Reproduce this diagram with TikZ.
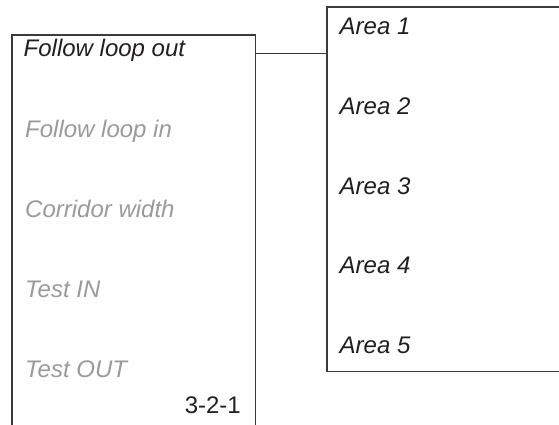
\documentclass[tikz,border=0pt]{standalone}
\usepackage{fontspec}
\setmainfont{Liberation Sans}
\definecolor{linec}{HTML}{3A3A3A}
\definecolor{inkc}{HTML}{231F20}
\definecolor{greyc}{HTML}{9A9A9C}
\begin{document}
\begin{tikzpicture}[x=1pt,y=-1pt,
  frame/.style={draw=linec,line width=1.4pt},
  lbl/.style={anchor=base west,inner sep=0pt,font=\fontsize{24}{28}\selectfont\itshape,text=inkc},
  dim/.style={lbl,text=greyc},
  num/.style={anchor=base east,inner sep=0pt,font=\fontsize{24}{28}\selectfont,text=inkc}]
\useasboundingbox (0,0) rectangle (559,425);
\clip (0,0) rectangle (559,425);
% left menu frame
\coordinate (lbl) at (12,430);
\coordinate (ltl) at (12,35);
\coordinate (ltr) at (255.5,35);
\coordinate (lbr) at (255.5,430);
\draw[frame] (lbl) -- (ltl) -- (ltr) -- (lbr);
% right menu frame
\coordinate (rtr) at (565,7);
\coordinate (rtl) at (327,7);
\coordinate (rbl) at (327,371.5);
\coordinate (rbr) at (565,371.5);
\draw[frame] (rtr) -- (rtl) -- (rbl) -- (rbr);
% left entries
\node[lbl] (fo) at (23.5,57) {Follow loop out};
\node[dim] (fi) at (25,137) {Follow loop in};
\node[dim] (cw) at (25,217) {Corridor width};
\node[dim] (ti) at (25,297) {Test IN};
\node[dim] (to) at (25,377) {Test OUT};
\node[num] (nr) at (241,413) {3-2-1};
% right entries
\node[lbl] (a1) at (339.5,35) {Area 1};
\node[lbl] (a2) at (339.5,114.5) {Area 2};
\node[lbl] (a3) at (339.5,194) {Area 3};
\node[lbl] (a4) at (339.5,273.5) {Area 4};
\node[lbl] (a5) at (339.5,353) {Area 5};
% connector
\coordinate (cs) at (255.5,54);
\coordinate (ce) at (327,54);
\draw[draw=linec,line width=1pt] (cs) -- (ce);
\end{tikzpicture}
\end{document}
